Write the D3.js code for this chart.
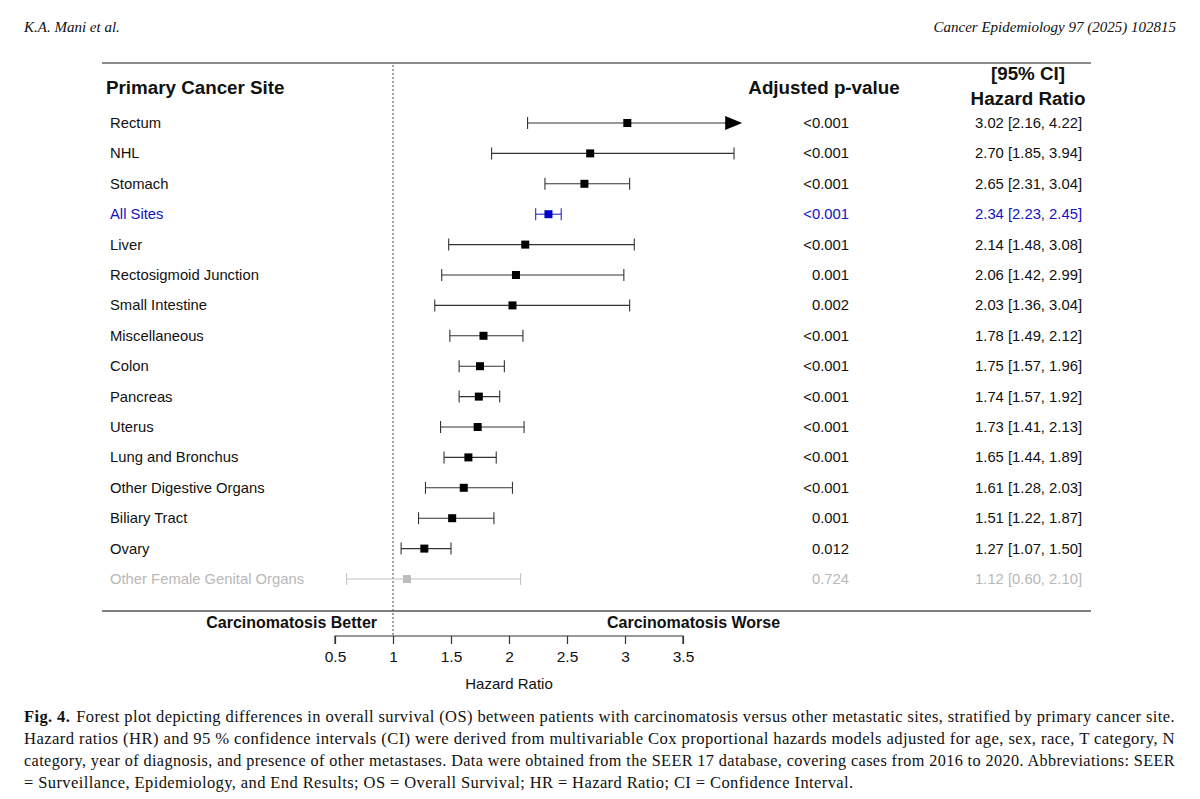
<!DOCTYPE html>
<html>
<head>
<meta charset="utf-8">
<script src="https://cdn.jsdelivr.net/npm/d3@7"></script>
<style>
  body { margin: 0; background: #fff; }
  svg { display: block; }
</style>
</head>
<body>
<script>
// forest plot data
const sites = ["Rectum", "NHL", "Stomach", "All Sites", "Liver", "Rectosigmoid Junction",
  "Small Intestine", "Miscellaneous", "Colon", "Pancreas", "Uterus", "Lung and Bronchus",
  "Other Digestive Organs", "Biliary Tract", "Ovary", "Other Female Genital Organs"];
const hr    = [3.02, 2.70, 2.65, 2.34, 2.14, 2.06, 2.03, 1.78, 1.75, 1.74, 1.73, 1.65, 1.61, 1.51, 1.27, 1.12];
const lower = [2.16, 1.85, 2.31, 2.23, 1.48, 1.42, 1.36, 1.49, 1.57, 1.57, 1.41, 1.44, 1.28, 1.22, 1.07, 0.60];
const upper = [4.22, 3.94, 3.04, 2.45, 3.08, 2.99, 3.04, 2.12, 1.96, 1.92, 2.13, 1.89, 2.03, 1.87, 1.50, 2.10];
const pvals = ["<0.001", "<0.001", "<0.001", "<0.001", "<0.001", "0.001", "0.002", "<0.001",
  "<0.001", "<0.001", "<0.001", "<0.001", "<0.001", "0.001", "0.012", "0.724"];
const ticks = [0.5, 1, 1.5, 2, 2.5, 3, 3.5];

const captionLines = [
  "Forest plot depicting differences in overall survival (OS) between patients with carcinomatosis versus other metastatic sites, stratified by primary cancer site.",
  "Hazard ratios (HR) and 95 % confidence intervals (CI) were derived from multivariable Cox proportional hazards models adjusted for age, sex, race, T category, N",
  "category, year of diagnosis, and presence of other metastases. Data were obtained from the SEER 17 database, covering cases from 2016 to 2020. Abbreviations: SEER",
  "= Surveillance, Epidemiology, and End Results; OS = Overall Survival; HR = Hazard Ratio; CI = Confidence Interval."
];

const W = 1200, H = 799;
const sans = "Liberation Sans, Arial, sans-serif";
const serif = "Liberation Serif, DejaVu Serif, serif";

const svg = d3.select("body").append("svg").attr("width", W).attr("height", H);

// x scale: 0.5 -> 335, 3.5 -> 683
const x = d3.scaleLinear().domain([0.5, 3.5]).range([335, 683]);
const xMax = 4.01; // arrow clip
const y = d3.scalePoint().domain(sites).range([123, 579]);

const colorOf = (d, i) => d === "All Sites" ? "#1212c4" : (d === "Other Female Genital Organs" ? "#b8b8b8" : "#111");
const lineColOf = (d, i) => d === "All Sites" ? "#2a2acc" : (d === "Other Female Genital Organs" ? "#c4c4c4" : "#333");

// page header
svg.append("text").attr("x", 24).attr("y", 32).attr("font-family", serif).attr("font-style", "italic")
  .attr("font-size", 15).attr("fill", "#111").text("K.A. Mani et al.");
svg.append("text").attr("x", 1176).attr("y", 32).attr("text-anchor", "end").attr("font-family", serif)
  .attr("font-style", "italic").attr("font-size", 15).attr("fill", "#111").text("Cancer Epidemiology 97 (2025) 102815");

// frame lines
svg.append("line").attr("x1", 102).attr("x2", 1091).attr("y1", 63).attr("y2", 63)
  .attr("stroke", "#666").attr("stroke-width", 1.5);
svg.append("line").attr("x1", 102).attr("x2", 1091).attr("y1", 611).attr("y2", 611)
  .attr("stroke", "#555").attr("stroke-width", 1.5);

// reference line at HR = 1
svg.append("line").attr("x1", x(1)).attr("x2", x(1)).attr("y1", 65).attr("y2", 636)
  .attr("stroke", "#666").attr("stroke-width", 1.2).attr("stroke-dasharray", "2,2");

// headers
svg.append("text").attr("x", 106).attr("y", 94).attr("font-family", sans).attr("font-weight", "bold")
  .attr("font-size", 18.8).attr("fill", "#111").text("Primary Cancer Site");
svg.append("text").attr("x", 824).attr("y", 94).attr("text-anchor", "middle").attr("font-family", sans)
  .attr("font-weight", "bold").attr("font-size", 18.8).attr("fill", "#111").text("Adjusted p-value");
svg.append("text").attr("x", 1028).attr("y", 80).attr("text-anchor", "middle").attr("font-family", sans)
  .attr("font-weight", "bold").attr("font-size", 18.8).attr("fill", "#111").text("[95% CI]");
svg.append("text").attr("x", 1028).attr("y", 105).attr("text-anchor", "middle").attr("font-family", sans)
  .attr("font-weight", "bold").attr("font-size", 18.8).attr("fill", "#111").text("Hazard Ratio");

const rows = svg.append("g").selectAll("g").data(sites).enter().append("g")
  .attr("transform", d => `translate(0,${y(d)})`);

rows.append("text").attr("x", 110).attr("y", 5).attr("font-family", sans).attr("font-size", 14.8)
  .attr("fill", colorOf).text(d => d);

// CI lines
rows.append("line")
  .attr("x1", (d, i) => x(lower[i]))
  .attr("x2", (d, i) => x(Math.min(upper[i], xMax)) - (upper[i] > xMax ? 14 : 0))
  .attr("y1", 0).attr("y2", 0)
  .attr("stroke", lineColOf).attr("stroke-width", 1.1);

// left caps
rows.append("line").attr("x1", (d, i) => x(lower[i])).attr("x2", (d, i) => x(lower[i]))
  .attr("y1", -6).attr("y2", 6).attr("stroke", lineColOf).attr("stroke-width", 1.1);

// right caps or arrow
rows.each(function(d, i) {
  const g = d3.select(this);
  if (upper[i] > xMax) {
    const xe = x(xMax);
    g.append("path").attr("d", `M${xe - 17},-7 L${xe},0 L${xe - 17},7 Z`).attr("fill", "#000");
  } else {
    g.append("line").attr("x1", x(upper[i])).attr("x2", x(upper[i])).attr("y1", -6).attr("y2", 6)
      .attr("stroke", lineColOf(d, i)).attr("stroke-width", 1.1);
  }
});

// point estimates
rows.append("rect").attr("x", (d, i) => x(hr[i]) - 4).attr("y", -4).attr("width", 8).attr("height", 8)
  .attr("fill", (d, i) => d === "All Sites" ? "#0000cc" : (d === "Other Female Genital Organs" ? "#bdbdbd" : "#000"));

// p-values
rows.append("text").attr("x", 849).attr("y", 5).attr("text-anchor", "end").attr("font-family", sans)
  .attr("font-size", 14.8).attr("fill", colorOf).text((d, i) => pvals[i]);

// HR [CI]
rows.append("text").attr("x", 1082).attr("y", 5).attr("text-anchor", "end").attr("font-family", sans)
  .attr("font-size", 14.8).attr("fill", colorOf)
  .text((d, i) => `${hr[i].toFixed(2)} [${lower[i].toFixed(2)}, ${upper[i].toFixed(2)}]`);

// direction labels
svg.append("text").attr("x", 377).attr("y", 628).attr("text-anchor", "end").attr("font-family", sans)
  .attr("font-weight", "bold").attr("font-size", 16).attr("fill", "#111").text("Carcinomatosis Better");
svg.append("text").attr("x", 607).attr("y", 628).attr("font-family", sans)
  .attr("font-weight", "bold").attr("font-size", 16).attr("fill", "#111").text("Carcinomatosis Worse");

// x axis
const axis = svg.append("g").attr("transform", "translate(0,636)")
  .call(d3.axisBottom(x).tickValues(ticks).tickSize(8).tickPadding(7).tickFormat(d3.format("")));
axis.select(".domain").attr("stroke", "#333").attr("stroke-width", 1.2)
  .attr("d", `M${x(0.5)},8V0H${x(3.5)}V8`);
axis.selectAll(".tick line").attr("stroke", "#333").attr("stroke-width", 1.2);
axis.selectAll(".tick text").attr("font-family", sans).attr("font-size", 15.5).attr("fill", "#111");

svg.append("text").attr("x", 509).attr("y", 689).attr("text-anchor", "middle").attr("font-family", sans)
  .attr("font-size", 15).attr("fill", "#111").text("Hazard Ratio");

// caption
const cap = svg.append("g").attr("font-family", serif).attr("font-size", 16.5)
  .attr("letter-spacing", 0.4).attr("fill", "#111");
captionLines.forEach((line, i) => {
  const t = cap.append("text").attr("x", 24).attr("y", 722 + i * 22);
  if (i === 0) {
    t.append("tspan").attr("font-weight", "bold").text("Fig. 4.");
    t.append("tspan").attr("dx", 6).text(line);
  } else {
    t.text(line);
  }
  if (i < 3) t.attr("textLength", 1151).attr("lengthAdjust", "spacingAndGlyphs");
});
</script>
</body>
</html>
